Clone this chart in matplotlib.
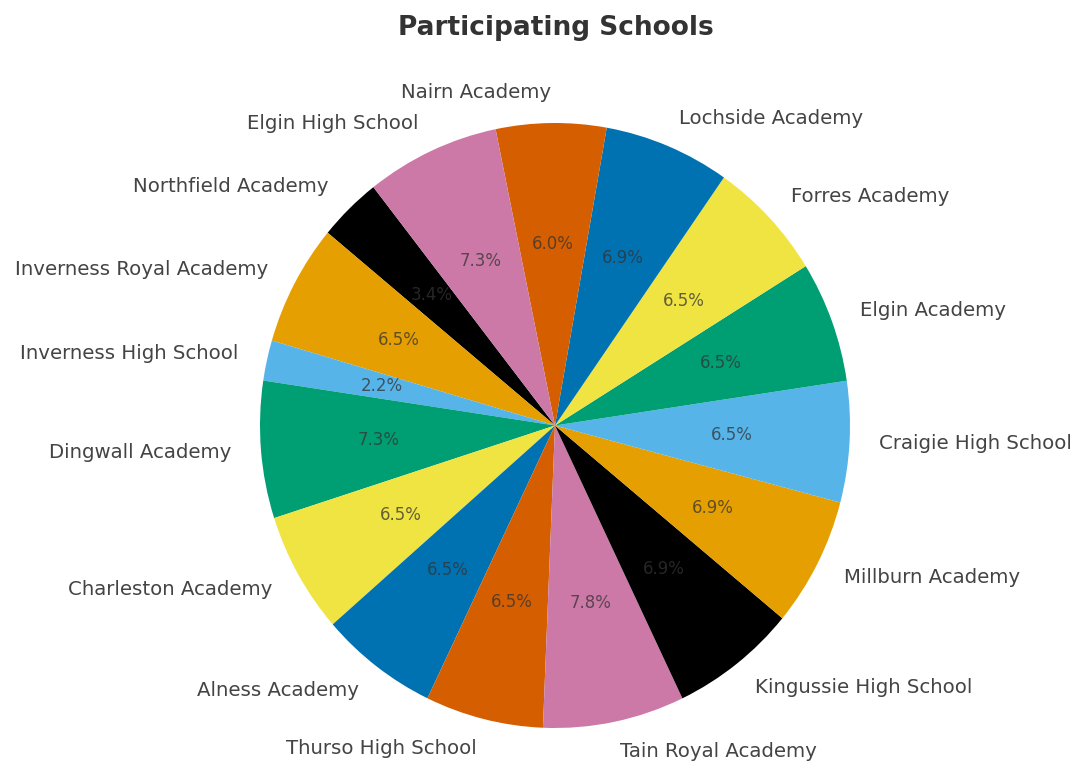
import matplotlib
matplotlib.use("Agg")
import matplotlib.pyplot as plt

schools = ["Northfield Academy", "Inverness Royal Academy", "Inverness High School",
           "Dingwall Academy", "Charleston Academy", "Alness Academy",
           "Thurso High School", "Tain Royal Academy", "Kingussie High School",
           "Millburn Academy", "Craigie High School", "Elgin Academy",
           "Forres Academy", "Lochside Academy", "Nairn Academy", "Elgin High School"]
participants = [8, 15, 5, 17, 15, 15, 15, 18, 16, 16, 15, 15, 15, 16, 14, 17]
palette = ["#000000", "#E69F00", "#56B4E9", "#009E73",
           "#F0E442", "#0072B2", "#D55E00", "#CC79A7"]
colors = [palette[i % len(palette)] for i in range(len(schools))]

fig = plt.figure(figsize=(10.79, 7.65), dpi=100)
cx, cy = 555 / 1079, 1 - 425.5 / 765
w, h = 2 * 295 / 1079, 2 * 302.5 / 765
ax = fig.add_axes([cx - w / 2, cy - h / 2, w, h])
wedges, texts, autotexts = ax.pie(
    participants, labels=schools, colors=colors, autopct="%1.1f%%",
    startangle=128, counterclock=True,
    textprops={"fontsize": 14.2, "color": "#444444"},
)
for t in autotexts:
    t.set_color("#333333")
    t.set_fontsize(12)
    t.set_alpha(0.75)
ax.set_aspect("auto")
ax.set_xlim(-1, 1)
ax.set_ylim(-1, 1)
fig.text(cx + 1 / 1079, 1 - 28 / 765, "Participating Schools", ha="center", va="center",
         fontsize=19, fontweight="bold", color="#333333")
fig.savefig("out.png", dpi=100)
